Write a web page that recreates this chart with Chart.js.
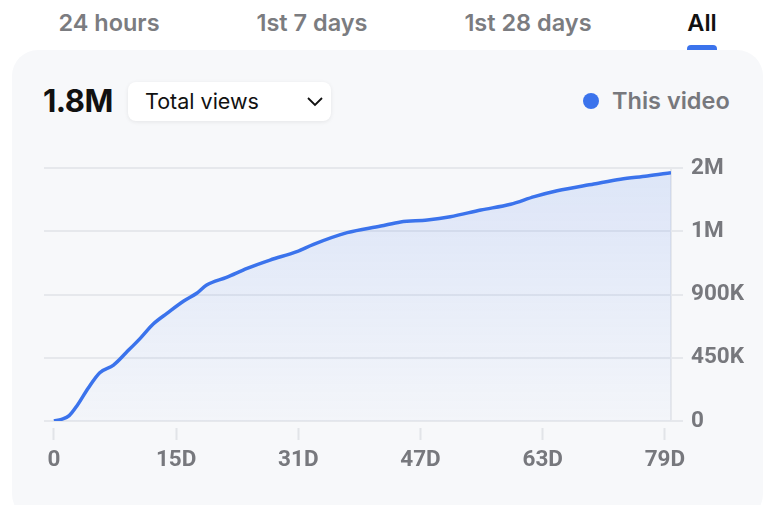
<!DOCTYPE html>
<html>
<head>
<meta charset="utf-8">
<script src="https://cdn.jsdelivr.net/npm/chart.js@4"></script>
<style>
  html, body { margin: 0; padding: 0; background: #fff; }
  body { width: 776px; height: 505px; position: relative; overflow: hidden; font-family: Inter, "Noto Sans", sans-serif; }
  .tab { position: absolute; top: 8px; font-size: 23.5px; font-weight: 600; color: #7b7c80; transform: translateX(-50%); white-space: nowrap; }
  .tab.on { color: #111; }
  .bar { position: absolute; left: 687px; top: 45px; width: 30px; height: 5px; background: #3b73ec; border-radius: 4px 4px 0 0; }
  .card { position: absolute; left: 12px; top: 50px; width: 751px; height: 470px; background: #f7f8fa; border-radius: 26px; }
  .big { position: absolute; left: 43px; top: 82px; font-size: 31px; font-weight: 700; color: #111; letter-spacing: -0.5px; }
  .drop { position: absolute; left: 128px; top: 82px; width: 203px; height: 39px; background: #fff; border-radius: 8px; box-shadow: 0 1px 4px rgba(0,0,0,0.08); }
  .drop span { position: absolute; left: 17px; top: 6px; font-size: 21.5px; color: #111; }
  .drop svg { position: absolute; left: 178px; top: 14px; }
  .legend { position: absolute; left: 583px; top: 86px; font-size: 23.5px; font-weight: 600; color: #77787d; }
  .legend i { display: inline-block; width: 16px; height: 16px; border-radius: 50%; background: #3b73ec; vertical-align: 0px; margin-right: 13px; }
  canvas { position: absolute; left: 0; top: 0; }
</style>
</head>
<body>
<div class="tab" style="left:109px">24 hours</div>
<div class="tab" style="left:312px">1st 7 days</div>
<div class="tab" style="left:528px">1st 28 days</div>
<div class="tab on" style="left:702px">All</div>
<div class="card"></div>
<div class="bar"></div>
<div class="big">1.8M</div>
<div class="drop"><span>Total views</span><svg width="18" height="12" viewBox="0 0 18 12"><polyline points="2,2 9,9 16,2" fill="none" stroke="#111" stroke-width="1.8"/></svg></div>
<div class="legend"><i></i>This video</div>
<canvas id="chart" width="776" height="505"></canvas>
<script>
// cumulative views (x in days)
const days = [0, 1, 2, 3, 4.5, 6, 7.8, 9.5, 11.3, 13, 14.8, 17, 18.7, 20, 22.6, 25.3, 28.3, 31.8, 34, 38.4, 42.8, 45.4, 48.9, 51.9, 55.9, 59.8, 62.9, 65.9, 70.7, 74.2, 77.7, 80.8];
const views = [0, 12000, 38000, 107000, 235000, 344000, 398000, 489000, 588000, 690000, 766000, 854000, 909000, 968000, 1022000, 1086000, 1145000, 1205000, 1257000, 1340000, 1387000, 1416000, 1430000, 1453000, 1501000, 1542000, 1596000, 1638000, 1686000, 1720000, 1743000, 1767000];

const xTickDays = [0, 16, 32, 48, 64, 80];
const xTickLabels = ["0", "15D", "31D", "47D", "63D", "79D"];
const yTickLabels = ["0", "450K", "900K", "1M", "2M"];

const points = days.map((d, i) => ({ x: d, y: views[i] }));
const tickFont = { family: "Roboto", size: 22.5, weight: "bold" };

const ctx = document.getElementById("chart").getContext("2d");
const grad = ctx.createLinearGradient(0, 168, 0, 421);
grad.addColorStop(0, "rgba(59,115,236,0.14)");
grad.addColorStop(1, "rgba(59,115,236,0.02)");

new Chart(ctx, {
    type: "line",
    data: {
        datasets: [{
            label: "This video",
            data: points,
            borderColor: "#3b73ec",
            borderWidth: 3.5,
            backgroundColor: grad,
            fill: "origin",
            pointRadius: 0,
            tension: 0.35,
            cubicInterpolationMode: "monotone"
        }]
    },
    options: {
        responsive: false,
        animation: false,
        layout: { padding: { left: 44, top: 168, right: 0, bottom: 0 } },
        plugins: { legend: { display: false }, tooltip: { enabled: false } },
        scales: {
            x: {
                type: "linear",
                min: -1.3,
                max: 80.8,
                afterBuildTicks: s => { s.ticks = xTickDays.map(v => ({ value: v })); },
                afterFit: s => { s.height = 84; },
                ticks: {
                    callback: (v, i) => xTickLabels[i],
                    color: "#77787d",
                    font: tickFont,
                    padding: 7,
                    maxRotation: 0
                },
                grid: {
                    drawOnChartArea: false,
                    tickLength: 19,
                    tickColor: "#e2e4e8",
                    tickWidth: 2,
                    tickBorderDash: [0, 7, 12, 40]
                },
                border: { display: false }
            },
            y: {
                position: "right",
                min: 0,
                max: 1800000,
                afterBuildTicks: s => { s.ticks = [0, 450000, 900000, 1350000, 1800000].map(v => ({ value: v })); },
                afterFit: s => { s.width = 105; },
                ticks: {
                    callback: (v, i) => yTickLabels[i],
                    color: "#77787d",
                    font: tickFont,
                    padding: 8
                },
                grid: {
                    color: "#e6e8ec",
                    lineWidth: 2,
                    tickLength: 12
                },
                border: { display: true, color: "#e6e8ec", width: 2 }
            }
        }
    }
});
</script>
</body>
</html>
